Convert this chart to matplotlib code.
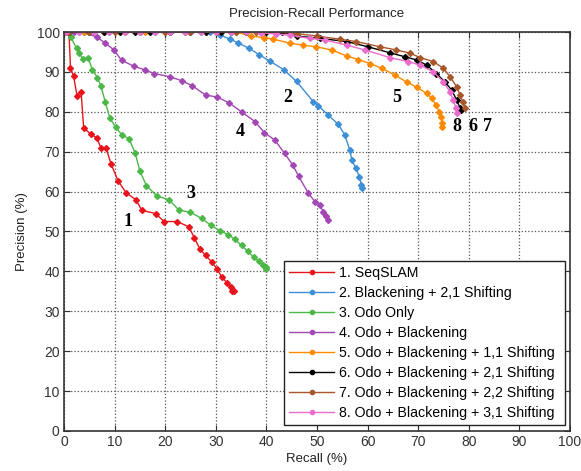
import matplotlib
matplotlib.use("Agg")
import matplotlib.pyplot as plt

# recall / precision values
s1_x = [0.8, 1.0, 1.3, 1.9, 2.6, 3.4, 3.9, 5.3, 6.5, 7.3, 8.3, 9.3, 10.7, 12.3, 14.2, 15.4,
        18.1, 19.8, 22.3, 24.7, 25.8, 26.9, 28.0, 29.2, 30.3, 31.2, 32.2, 33.0, 33.7, 33.3]
s1_y = [100, 100, 91, 89, 84, 85, 76, 74.4, 73.5, 71, 71, 67, 62.7, 59.7, 58, 55.3,
        54.5, 52.5, 52.5, 51.2, 48.3, 45.6, 44, 42.4, 40.5, 38.6, 37.2, 36, 35.2, 35]

s2_x = [0.5, 3, 6, 9, 12, 15, 18, 21, 24, 27, 28.9, 30.9, 32.9, 34.5, 36.5, 38.6, 40.7,
        43.4, 46, 49.3, 50.3, 52.2, 54.2, 55.5, 56.5, 56.9, 57.7, 58.4, 58.8, 59.0]
s2_y = [100, 100, 100, 100, 100, 100, 100, 100, 100, 100, 100, 99.2, 98.2, 97.2, 96,
        94.3, 92.7, 90.6, 87.6, 82.5, 81.5, 79.2, 76.9, 74.2, 70.4, 67.9, 65.8, 63.7, 61.7, 60.8]

s3_x = [0.5, 1.35, 2.5, 2.95, 3.8, 4.8, 5.6, 6.6, 7.3, 8.2, 9.1, 10.2, 11.4, 12.9, 14.1,
        15.0, 16.3, 18.3, 20.8, 22.7, 25.0, 27.2, 29.0, 30.8, 32.5, 33.8, 35.1, 36.4, 37.5,
        38.6, 39.4, 39.9, 40.0]
s3_y = [100, 98.7, 95.9, 94.7, 93.2, 93.5, 90.6, 88.6, 86.5, 82.4, 78.4, 76.2, 74.3, 73.2,
        69.6, 65.2, 61.5, 59, 57.9, 55.4, 54.8, 53.3, 51.6, 50.2, 49.2, 48, 46.5, 45, 43.5,
        42.5, 41.6, 41.0, 40.5]

s4_x = [0.5, 2, 4, 6.5, 8.1, 9.8, 11.4, 13.9, 16, 17.8, 20.9, 23.3, 25.4, 28, 30.3, 32.7,
        35.1, 37.8, 39.6, 41.7, 43.6, 45.2, 46.4, 48.3, 49.6, 50.6, 51.2, 51.7, 52.2]
s4_y = [100, 100, 100, 98.7, 97.3, 95.6, 92.9, 91.4, 90.5, 89.6, 88.8, 87.8, 86.5, 84.2,
        83.7, 82.2, 80.0, 77.5, 74.8, 72.9, 69.6, 66.7, 63.8, 59.6, 57.5, 56.6, 55, 54, 53]

s5_x = [0.5, 4, 8, 12, 16, 20, 24, 28, 31, 34, 37, 39.5, 41.4, 44.7, 47.3, 49.9, 52.9,
        55.9, 58.2, 60.5, 62.8, 65.4, 67.7, 69.8, 71.7, 72.7, 73.5, 74.2, 74.5, 74.8, 74.8]
s5_y = [100, 100, 100, 100, 100, 100, 100, 100, 100, 100, 99, 98.6, 98.2, 97.2, 96.7,
        96.3, 95.5, 94, 93.1, 92.1, 90.9, 89.2, 87.5, 86.1, 84.6, 83.4, 81.7, 80, 78.8,
        77.3, 76.3]

s6_x = [1, 5, 8, 11, 14, 17, 21, 25, 28, 31, 33, 36, 40, 43, 46, 50.6, 55.9, 60.1, 64.4,
        67.4, 69.7, 71.7, 73.6, 75.3, 76.6, 77.6, 78.3, 78.5]
s6_y = [100, 100, 100, 100, 100, 100, 100, 100, 100, 100, 100, 100, 100, 100, 99, 98.4,
        97.6, 96.3, 94.8, 93.8, 93, 91.7, 89.6, 87.5, 85.5, 83, 80.9, 80.4]

s7_x = [1, 5, 10, 15, 20, 25, 30, 34, 38, 42, 46, 50, 54.5, 57.8, 62.5, 65.7, 68.4, 70.4,
        73, 75, 76.3, 77.6, 78.3, 78.8, 79.2]
s7_y = [100, 100, 100, 100, 100, 100, 100, 100, 100, 100, 99.6, 99, 98.2, 97.6, 96.3,
        95.5, 94.7, 93.6, 92.6, 90.9, 88.8, 86.3, 84.2, 82.5, 80.9]

s8_x = [0.5, 3, 6, 9, 12, 15, 18, 21, 24, 27, 30, 33, 36, 39, 42, 44.7, 48.6, 51.6, 55.9,
        59.5, 64.4, 68, 70.4, 73, 75, 76.3, 76.9, 77.5, 77.6]
s8_y = [100, 100, 100, 100, 100, 100, 100, 100, 100, 100, 100, 100, 100, 99.8, 99.5,
        99.2, 98.4, 98, 96.7, 95.5, 93.6, 92.6, 91.7, 90, 87.5, 85, 83, 80.9, 79.6]

names = ['1. SeqSLAM', '2. Blackening + 2,1 Shifting', '3. Odo Only', '4. Odo + Blackening',
         '5. Odo + Blackening + 1,1 Shifting', '6. Odo + Blackening + 2,1 Shifting',
         '7. Odo + Blackening + 2,2 Shifting', '8. Odo + Blackening + 3,1 Shifting']
colors = ['#e8141c', '#3d8fd6', '#4cb848', '#a347b5', '#ff8a00', '#000000', '#a8562a', '#ea6ccc']
series = [(s1_x, s1_y), (s2_x, s2_y), (s3_x, s3_y), (s4_x, s4_y),
          (s5_x, s5_y), (s6_x, s6_y), (s7_x, s7_y), (s8_x, s8_y)]

# curve number labels placed next to each curve
tag_text = ['1', '2', '3', '4', '5', '8', '6', '7']
tag_x = [12.6, 44.3, 25.1, 34.8, 65.8, 77.7, 80.8, 83.8]
tag_y = [52.6, 83.7, 59.6, 75.0, 83.7, 76.4, 76.4, 76.4]

plt.rcParams['font.family'] = ['Liberation Sans', 'DejaVu Sans']

fig = plt.figure(figsize=(5.81, 4.71), dpi=100)
ax = fig.add_axes([0.110, 0.085, 0.871, 0.847])

for (xs, ys), name, c in zip(series, names, colors):
    ax.plot(xs, ys, color=c, lw=1.0, marker='D', ms=3, mec=c, mfc=c, label=name)

for t, x, y in zip(tag_text, tag_x, tag_y):
    ax.text(x, y, t, fontsize=13, fontweight='bold', family='Liberation Serif',
            ha='center', va='center')

ax.set_xlim(0, 100)
ax.set_ylim(0, 100)
ax.set_xticks(range(0, 101, 10))
ax.set_yticks(range(0, 101, 10))
ax.tick_params(direction='in', top=True, right=True, labelsize=10, length=4,
               colors='#333333', pad=3)
ax.grid(True, linestyle=':', color='#555555', lw=0.9)
for sp in ax.spines.values():
    sp.set_linewidth(1.2)
    sp.set_color('#333333')

ax.set_title('Precision-Recall Performance', fontsize=9.5, color='#222222', pad=11)
ax.set_xlabel('Recall (%)', fontsize=9.5, color='#222222', labelpad=3)
ax.set_ylabel('Precision (%)', fontsize=9.5, color='#222222', labelpad=6)

leg = ax.legend(loc='lower left', bbox_to_anchor=(0.435, 0.015, 0.555, 0.40), mode='expand',
                fontsize=10.2, handlelength=3.2, handletextpad=0.3, labelspacing=0.42,
                borderpad=0.35, fancybox=False, framealpha=1, borderaxespad=0)
leg.get_frame().set_edgecolor('#222222')
leg.get_frame().set_linewidth(1.0)
for h in leg.get_lines():
    h.set_marker('o')
    h.set_markersize(3)

fig.savefig('out.png', dpi=100)
